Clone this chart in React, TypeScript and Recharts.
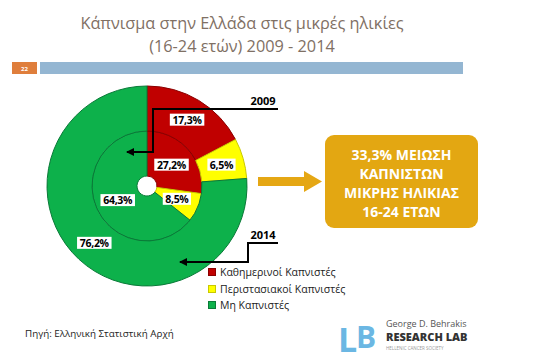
import React from "react";
import { Cell, Legend, Pie, PieChart } from "recharts";

const categories = ["Καθημερινοί Καπνιστές", "Περιστασιακοί Καπνιστές", "Μη Καπνιστές"];
const values2009 = [27.2, 8.5, 64.3];
const values2014 = [17.3, 6.5, 76.2];
const titleLines = ["Κάπνισμα στην Ελλάδα στις μικρές ηλικίες", "(16-24 ετών) 2009 - 2014"];
const boxLines = ["33,3% ΜΕΙΩΣΗ", "ΚΑΠΝΙΣΤΩΝ", "ΜΙΚΡΗΣ ΗΛΙΚΙΑΣ", "16-24 ΕΤΩΝ"];
const source = "Πηγή: Ελληνική Στατιστική Αρχή";

const COLORS = ["#C00000", "#FFFF00", "#0DB14B"];
const STROKES = ["#8a0000", "#c9c900", "#0a7a38"];
const FONT = "'Open Sans', 'DejaVu Sans', sans-serif";
const RADIAN = Math.PI / 180;

const inner = categories.map((name, i) => ({ name, value: values2009[i] }));
const outer = categories.map((name, i) => ({ name, value: values2014[i] }));

const fmt = (v: number) => v.toFixed(1).replace(".", ",") + "%";

const renderLabel = (p: any) => {
  const r = (p.innerRadius + p.outerRadius) / 2;
  const x = p.cx + r * Math.cos(-p.midAngle * RADIAN);
  const y = p.cy + r * Math.sin(-p.midAngle * RADIAN);
  const txt = fmt(p.value);
  const w = txt.length * 6.3 + 3;
  return (
    <g>
      <rect x={x - w / 2} y={y - 6} width={w} height={12} fill="#fff" />
      <text x={x} y={y + 4} textAnchor="middle" fontFamily={FONT} fontWeight={700}
        fontSize={10.5} fill="#000" letterSpacing={-0.3}>{txt}</text>
    </g>
  );
};

const LegendBox = () => (
  <div style={{ fontFamily: FONT, fontSize: 10.5, color: "#222" }}>
    {categories.map((c, i) => (
      <div key={c} style={{ display: "flex", alignItems: "center", height: 16.5 }}>
        <span style={{ width: 6, height: 6, background: COLORS[i], border: "1px solid " + STROKES[i], marginRight: 4 }} />
        {c}
      </div>
    ))}
  </div>
);

export default function App() {
  return (
    <div style={{ position: "fixed", left: 0, top: 0, width: 555, height: 364, background: "#fff" }}>
      <PieChart width={555} height={364} margin={{ top: 0, right: 0, bottom: 0, left: 0 }}>
        <Pie data={inner} dataKey="value" cx={147} cy={186} innerRadius={10} outerRadius={55}
          startAngle={90} endAngle={-270} label={renderLabel} labelLine={false} isAnimationActive={false}>
          {inner.map((d, i) => <Cell key={d.name} fill={COLORS[i]} stroke={STROKES[i]} strokeWidth={1} />)}
        </Pie>
        <Pie data={outer} dataKey="value" cx={147} cy={186} innerRadius={55} outerRadius={100}
          startAngle={90} endAngle={-270} label={renderLabel} labelLine={false} isAnimationActive={false}>
          {outer.map((d, i) => <Cell key={d.name} fill={COLORS[i]} stroke={STROKES[i]} strokeWidth={1} />)}
        </Pie>
        <Legend content={<LegendBox />} layout="vertical"
          wrapperStyle={{ position: "absolute", left: 208, top: 264, width: 200 }} />
      </PieChart>
      <svg width={555} height={364} style={{ position: "absolute", left: 0, top: 0, pointerEvents: "none" }}>
        <defs>
          <marker id="ah" markerWidth="8" markerHeight="8" refX="7" refY="4" orient="auto" markerUnits="userSpaceOnUse">
            <path d="M0,0 L8,4 L0,8 z" fill="#000" />
          </marker>
        </defs>
        {titleLines.map((t, i) => (
          <text key={t} x={242} y={29 + i * 23} textAnchor="middle" fontFamily={FONT} fontSize={16.3} fill="#7F7064">{t}</text>
        ))}
        <rect x={12} y={62} width={25} height={12} fill="#DF7E3C" />
        <text x={24.5} y={71} textAnchor="middle" fontFamily={FONT} fontSize={6} fontWeight={700} fill="#fff">22</text>
        <rect x={40} y={62} width={423} height={12} fill="#94B6D2" />

        <path d="M278,109 L153,109 L153,152 L127,152" fill="none" stroke="#000" strokeWidth={2} markerEnd="url(#ah)" />
        <text x={263} y={105} textAnchor="middle" fontFamily={FONT} fontSize={11} fontWeight={700} fill="#000">2009</text>
        <path d="M278,243 L248,243 L248,262 L180,262" fill="none" stroke="#000" strokeWidth={2} markerEnd="url(#ah)" />
        <text x={263} y={239} textAnchor="middle" fontFamily={FONT} fontSize={11} fontWeight={700} fill="#000">2014</text>

        <path d="M258,177 L304,177 L304,171 L322,181.5 L304,192 L304,186 L258,186 z" fill="#E5A714" />
        <rect x={325} y={135} width={153} height={93} rx={9} fill="#E3A712" />
        {boxLines.map((t, i) => (
          <text key={t} x={401.5} y={160 + i * 19} textAnchor="middle" fontFamily={FONT} fontSize={14} fontWeight={700} fill="#fff">{t}</text>
        ))}

        <text x={25} y={337} fontFamily={FONT} fontSize={9.8} fill="#222">{source}</text>

        <text x={338} y={352} fontFamily={FONT} fontSize={34} fontWeight={700} fill="#6BB7E3">L</text>
        <text x={356} y={348} fontFamily={FONT} fontSize={30} fontWeight={700} fill="#6BB7E3">B</text>
        <text x={386} y={327} fontFamily={FONT} fontSize={9} fill="#555">George D. Behrakis</text>
        <text x={386} y={341} fontFamily={FONT} fontSize={11} fontWeight={800} fill="#333">RESEARCH LAB</text>
        <text x={386} y={350} fontFamily={FONT} fontSize={4.5} fill="#999">HELLENIC CANCER SOCIETY</text>
      </svg>
    </div>
  );
}
